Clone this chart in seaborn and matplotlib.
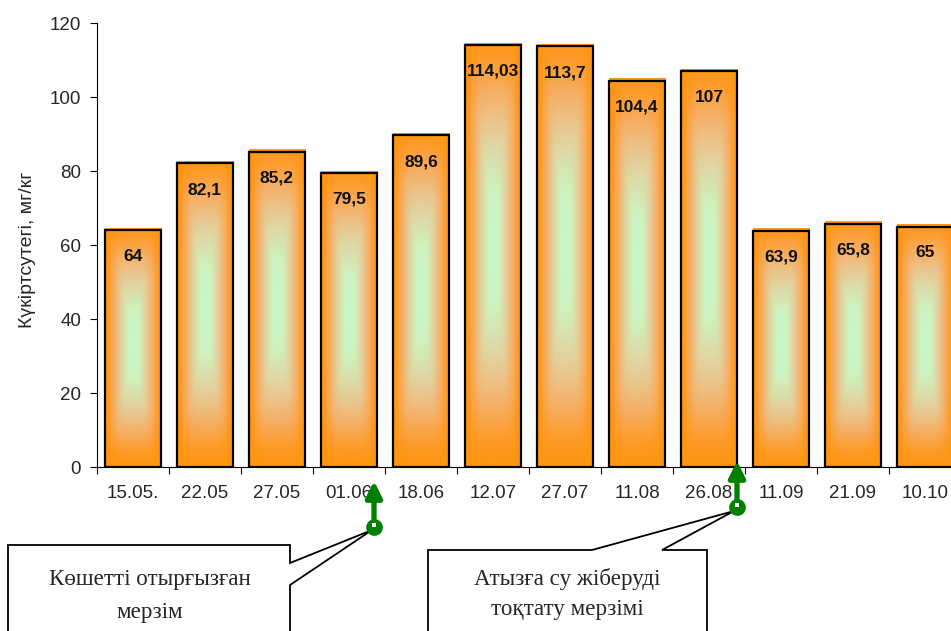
import numpy as np
import pandas as pd
import matplotlib
matplotlib.use("Agg")
import matplotlib.pyplot as plt
import seaborn as sns
from matplotlib.patches import Polygon
from matplotlib.colors import LinearSegmentedColormap

# Sampling dates and hydrogen sulfide content of the soil
dates = ["15.05.", "22.05", "27.05", "01.06", "18.06", "12.07",
         "27.07", "11.08", "26.08", "11.09", "21.09", "10.10"]
h2s = [64, 82.1, 85.2, 79.5, 89.6, 114.03, 113.7, 104.4, 107, 63.9, 65.8, 65]
y_ticks = [0, 20, 40, 60, 80, 100, 120]
y_label = "Күкіртсутегі, мг/кг"
note_planting = "Көшетті отырғызған\nмерзім"
note_water_stop = "Атызға су жіберуді\nтоқтату мерзімі"

sns.set_theme(style="ticks")
plt.rcParams["font.family"] = ["Liberation Sans", "DejaVu Sans"]

W, H = 951, 631
fig = plt.figure(figsize=(W / 100, H / 100), dpi=100)
fig.patch.set_facecolor("white")
ax = fig.add_axes([97 / W, 1 - 467 / H, 864 / W, 444 / H])
ax.patch.set_alpha(0)

df = pd.DataFrame({"date": dates, "h2s": h2s})
sns.barplot(data=df, x="date", y="h2s", ax=ax, width=0.79, color="#FF9A1E",
            saturation=1, edgecolor="black", linewidth=1.6)

# Centre-out gradient fill for every bar: pale green core, orange rim
fill_cmap = LinearSegmentedColormap.from_list(
    "bar_fill",
    [(0.0, "#C4FAC8"), (0.18, "#CEF2BE"), (0.45, "#E6CC98"),
     (0.68, "#F6AE62"), (0.86, "#FD9C2C"), (1.0, "#FF9614")])
u = np.linspace(-1, 1, 80)
v = np.linspace(-1, 1, 240)
U, V = np.meshgrid(u, v)
tu = np.abs(U) ** 1.05
tv = np.abs(V + 0.03) ** 1.35
t = np.clip((tu ** 5 + tv ** 5) ** (1 / 5), 0, 1)
grad = fill_cmap(t)

for p, val in zip(ax.patches, h2s):
    x0, bw, bh = p.get_x(), p.get_width(), p.get_height()
    ax.imshow(grad, extent=(x0, x0 + bw, 0, bh + 0.5), aspect="auto",
              interpolation="bicubic", zorder=0.5)
    p.set_facecolor("none")
    p.set_zorder(1)
    txt = f"{val:g}".replace(".", ",")
    ax.annotate(txt, (x0 + bw / 2, bh), xytext=(0, -19), textcoords="offset points",
                ha="center", va="center", fontsize=12.5, fontweight="bold",
                color="#111111", zorder=3)

ax.set_xlim(-0.5, len(dates) - 0.5)
ax.set_ylim(0, 120)
ax.set_yticks(y_ticks)
ax.set_xticks(np.arange(-0.5, len(dates), 1), minor=True)
ax.tick_params(axis="y", length=5, width=0.8, labelsize=13.5, pad=6.5, color="black")
ax.tick_params(axis="x", which="major", length=0, labelsize=13.5, pad=13)
ax.tick_params(axis="x", which="minor", length=5, width=0.8, color="black")
ax.set_xlabel("")
ax.set_ylabel(y_label, fontsize=14)
ax.yaxis.set_label_coords(-0.071, 0.49)
sns.despine(ax=ax)
for s in ("left", "bottom"):
    ax.spines[s].set_linewidth(0.8)
    ax.spines[s].set_color("black")

# Overlay in pixel coordinates for the callouts and markers
ov = fig.add_axes([0, 0, 1, 1])
ov.set_xlim(0, W)
ov.set_ylim(H, 0)
ov.axis("off")
ov.patch.set_alpha(0)

box1 = [(8, 650), (8, 545), (290, 545), (290, 563), (372, 530),
        (290, 585), (290, 650)]
box2 = [(428, 650), (428, 550), (592, 550), (734, 511), (662, 550),
        (707, 550), (707, 650)]
for pts in (box1, box2):
    ov.add_patch(Polygon(pts, closed=True, facecolor="white", edgecolor="black",
                         linewidth=1.3, zorder=1, clip_on=False))

serif = ["Liberation Serif", "DejaVu Serif"]
ov.text(150, 596, note_planting, ha="center", va="center", fontsize=16.6,
        family=serif, linespacing=1.7, zorder=2)
ov.text(567, 594, note_water_stop, ha="center", va="center", fontsize=16.6,
        family=serif, linespacing=1.6, zorder=2)

green = "#008000"
for xp, y_tail, y_tip in ((374, 527, 481), (737, 507, 461)):
    ov.annotate("", xy=(xp, y_tip), xytext=(xp, y_tail),
                arrowprops=dict(arrowstyle="-|>", color=green, lw=3.8,
                                mutation_scale=24, shrinkA=0, shrinkB=0),
                zorder=3)
    ov.plot([xp], [y_tail], marker="o", markersize=11, color=green, zorder=4)
    ov.plot([xp], [y_tail - 2], marker="s", markersize=3, color="white",
            markeredgewidth=0, zorder=5)

fig.savefig("out.png", dpi=100)
